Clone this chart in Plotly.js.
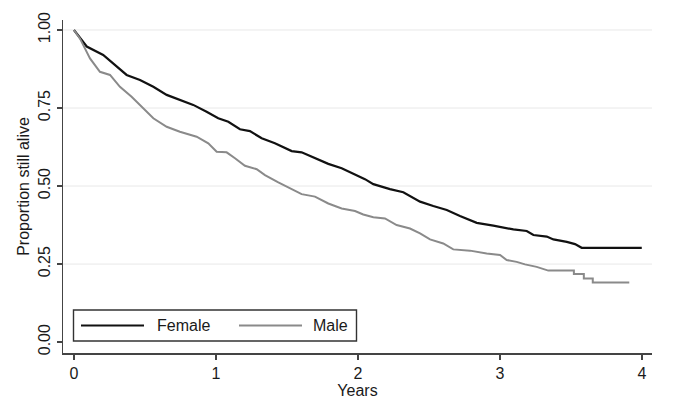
<!DOCTYPE html>
<html>
<head>
<meta charset="utf-8">
<script src="https://cdn.plot.ly/plotly-3.0.1.min.js"></script>
<style>html,body{margin:0;padding:0;background:#fff;}#chart{width:685px;height:417px;}</style>
</head>
<body>
<div id="chart"></div>
<script>
// Kaplan-Meier estimates
const femaleYears = [0, 0.09, 0.206, 0.277, 0.371, 0.465, 0.559, 0.653, 0.746, 0.84, 0.934, 1.016, 1.087, 1.169, 1.239, 1.322, 1.415, 1.533, 1.603, 1.697, 1.791, 1.885, 1.979, 2.049, 2.108, 2.225, 2.319, 2.437, 2.53, 2.625, 2.718, 2.836, 2.953, 3.094, 3.188, 3.235, 3.329, 3.376, 3.47, 3.528, 3.575, 3.998];
const femaleSurv  = [1.0, 0.947, 0.92, 0.893, 0.856, 0.84, 0.818, 0.792, 0.776, 0.76, 0.738, 0.717, 0.706, 0.682, 0.676, 0.653, 0.637, 0.612, 0.608, 0.589, 0.571, 0.557, 0.537, 0.522, 0.506, 0.49, 0.48, 0.45, 0.436, 0.423, 0.404, 0.382, 0.373, 0.361, 0.356, 0.343, 0.338, 0.329, 0.321, 0.314, 0.302, 0.302];

const maleYears = [0, 0.042, 0.113, 0.183, 0.254, 0.324, 0.406, 0.488, 0.559, 0.653, 0.746, 0.864, 0.946, 1.005, 1.075, 1.134, 1.204, 1.287, 1.345, 1.439, 1.533, 1.603, 1.697, 1.791, 1.885, 1.979, 2.037, 2.108, 2.19, 2.272, 2.366, 2.437, 2.507, 2.6, 2.671, 2.789, 2.906, 3.0, 3.047, 3.117, 3.176, 3.258, 3.34, 3.52, 3.52, 3.59, 3.59, 3.653, 3.653, 3.91];
const maleSurv  = [1.0, 0.973, 0.909, 0.866, 0.856, 0.818, 0.786, 0.749, 0.717, 0.69, 0.674, 0.658, 0.637, 0.61, 0.608, 0.589, 0.565, 0.554, 0.535, 0.512, 0.49, 0.474, 0.466, 0.444, 0.428, 0.42, 0.409, 0.4, 0.396, 0.375, 0.364, 0.348, 0.329, 0.316, 0.297, 0.293, 0.284, 0.279, 0.263, 0.257, 0.249, 0.241, 0.229, 0.229, 0.218, 0.218, 0.204, 0.204, 0.191, 0.191];

const seriesNames = ['Female', 'Male'];
const seriesColors = ['#111111', '#8a8a8a'];
const xTickVals = [0, 1, 2, 3, 4];
const yTickVals = [0, 0.25, 0.5, 0.75, 1];
const yTickText = ['0.00', '0.25', '0.50', '0.75', '1.00'];
const gridVals = [0.25, 0.5, 0.75, 1];

const FONT = 'Liberation Sans, Arial, sans-serif';

const traces = [
  {x: femaleYears, y: femaleSurv, name: seriesNames[0], type: 'scatter', mode: 'lines',
   line: {color: seriesColors[0], width: 2.2, shape: 'linear'}, showlegend: false, hoverinfo: 'skip'},
  {x: maleYears, y: maleSurv, name: seriesNames[1], type: 'scatter', mode: 'lines',
   line: {color: seriesColors[1], width: 2, shape: 'linear'}, showlegend: false, hoverinfo: 'skip'}
];

// gridlines (none at 0)
const shapes = gridVals.map(v => ({type: 'line', xref: 'paper', x0: 0, x1: 1, yref: 'y', y0: v, y1: v,
  line: {color: '#e8e8e8', width: 1}, layer: 'below'}));

// manual legend box (pixel-based via paper coords)
const W = 685, H = 417, mL = 63, mR = 33, mT = 20, mB = 64;
const pw = W - mL - mR, ph = H - mT - mB;
const px = x => (x - mL) / pw;
const py = y => (H - mB - y) / ph;
shapes.push({type: 'rect', xref: 'paper', yref: 'paper', x0: px(73.5), x1: px(356.5), y0: py(341), y1: py(310),
  line: {color: '#333333', width: 1.4}, fillcolor: 'rgba(255,255,255,1)', layer: 'above'});
shapes.push({type: 'line', xref: 'paper', yref: 'paper', x0: px(81), x1: px(144), y0: py(325.5), y1: py(325.5),
  line: {color: seriesColors[0], width: 2}, layer: 'above'});
shapes.push({type: 'line', xref: 'paper', yref: 'paper', x0: px(239), x1: px(302), y0: py(325.5), y1: py(325.5),
  line: {color: seriesColors[1], width: 2}, layer: 'above'});

const annotations = [
  {xref: 'paper', yref: 'paper', x: px(155), y: py(325.5), xanchor: 'left', yanchor: 'middle', showarrow: false,
   text: seriesNames[0], font: {family: FONT, size: 16, color: '#1a1a1a'}},
  {xref: 'paper', yref: 'paper', x: px(311), y: py(325.5), xanchor: 'left', yanchor: 'middle', showarrow: false,
   text: seriesNames[1], font: {family: FONT, size: 16, color: '#1a1a1a'}}
];

const layout = {
  width: W, height: H,
  margin: {l: mL, r: mR, t: mT, b: mB, pad: 0},
  paper_bgcolor: '#ffffff', plot_bgcolor: '#ffffff',
  font: {family: FONT, size: 16, color: '#1a1a1a'},
  showlegend: false,
  xaxis: {
    range: [-0.077, 4.07], tickvals: xTickVals, ticktext: xTickVals.map(String),
    showgrid: false, zeroline: false, showline: true, linecolor: '#444444', linewidth: 1.5,
    ticks: 'outside', ticklen: 5, tickwidth: 1.3, tickcolor: '#444444',
    tickfont: {family: FONT, size: 16, color: '#1a1a1a'},
    title: {text: 'Years', font: {family: FONT, size: 16, color: '#1a1a1a'}, standoff: 0}
  },
  yaxis: {
    range: [-0.035, 1.032], tickvals: yTickVals, ticktext: yTickText, tickangle: -90,
    showgrid: false, zeroline: false, showline: true, linecolor: '#444444', linewidth: 1.5,
    ticks: 'outside', ticklen: 5, tickwidth: 1.3, tickcolor: '#444444',
    tickfont: {family: FONT, size: 16, color: '#1a1a1a'},
    title: {text: 'Proportion still alive', font: {family: FONT, size: 16, color: '#1a1a1a'}, standoff: 2}
  },
  shapes: shapes,
  annotations: annotations
};

Plotly.newPlot('chart', traces, layout, {staticPlot: true, displayModeBar: false});
</script>
</body>
</html>
